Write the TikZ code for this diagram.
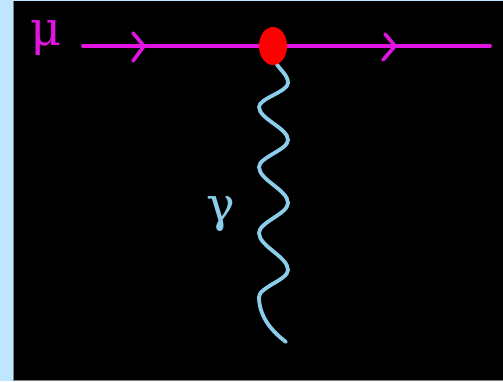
\documentclass[tikz,border=0pt]{standalone}
\usepackage{fontspec}
\setmainfont{Liberation Serif}
\newfontfamily\greekserif{DejaVu Serif}
\usetikzlibrary{calc,shapes.geometric}
\definecolor{sidebg}{RGB}{190,230,255}
\definecolor{edgegray}{RGB}{120,130,140}
\definecolor{muon}{RGB}{225,20,225}
\definecolor{photon}{RGB}{140,205,235}
\tikzset{
  fermion/.style={draw=muon, line width=4pt, line cap=round},
  chevron/.style={draw=muon, line width=3.6pt, line cap=round, line join=round},
  photonline/.style={draw=photon, line width=3.8pt, line cap=round},
  vertexdot/.style={ellipse, fill=red, minimum width=28pt, minimum height=38pt, inner sep=0pt},
  biglabel/.style={inner sep=0pt, font=\greekserif\fontsize{48}{48}\selectfont}
}
\begin{document}
\begin{tikzpicture}[x=1pt,y=-1pt]
\useasboundingbox (0,0) rectangle (503,381);
\fill[sidebg] (0,0) rectangle (503,381);
\fill[black] (13,1.3) rectangle (503,379.5);
\draw[edgegray, line width=1.2pt] (13.6,1.3) -- (13.6,380.2) -- (503,380.2);
% fermion line
\coordinate (fstart) at (83,46);
\coordinate (fend) at (490,46);
\coordinate (arrA) at (144,46);
\coordinate (arrB) at (395,46);
\draw[fermion] (fstart) -- (fend);
\draw[chevron] ([xshift=-11pt,yshift=-15pt]arrA) -- (arrA) -- ([xshift=-11pt,yshift=13pt]arrA);
\draw[chevron] ([xshift=-12pt,yshift=-14pt]arrB) -- (arrB) -- ([xshift=-10pt,yshift=12pt]arrB);
% photon
\coordinate (pstart) at (276,63);
\coordinate (pend) at (286,342);
\draw[photonline] (pstart)
  .. controls (280,70) and (288,75) .. (288,83)
  .. controls (288,91.6) and (259,98.4) .. (259,107)
  .. controls (259,119) and (288,128) .. (288,140)
  .. controls (288,149.7) and (259,157.3) .. (259,167)
  .. controls (259,180) and (288,190) .. (288,203)
  .. controls (288,213.8) and (259,222.2) .. (259,233)
  .. controls (259,246.3) and (288,256.7) .. (288,270)
  .. controls (288,279.7) and (259,287.3) .. (259,297)
  .. controls (259,315) and (270,330) .. (pend);
% vertex
\node[vertexdot] (vtx) at (273,46) {};
% labels
\node[biglabel, text=muon, anchor=base west] (mu) at (30,45) {μ};
\node[biglabel, text=photon, anchor=base west] (gam) at (206,221) {γ};
\end{tikzpicture}
\end{document}
